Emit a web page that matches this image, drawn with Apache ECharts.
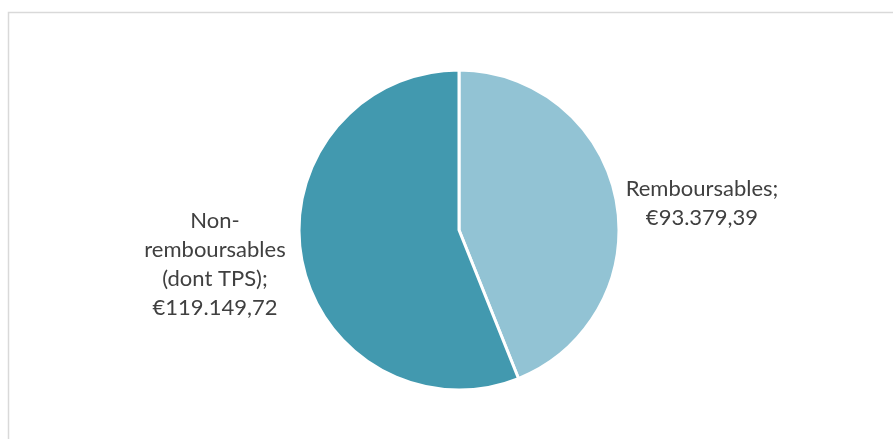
<!DOCTYPE html>
<html><head><meta charset="utf-8">
<script src="https://cdn.jsdelivr.net/npm/echarts@6/dist/echarts.min.js"></script>
<style>html,body{margin:0;padding:0;background:#fff}#c{width:893px;height:439px}</style>
</head><body><div id="c"></div>
<script>
const categories = ['Remboursables', 'Non-\nremboursables\n(dont TPS)'];
const values = [93379.39, 119149.72];
const colors = ['#92C3D4', '#4299AF'];

function fmt(v){
  const parts = v.toFixed(2).split('.');
  const intPart = parts[0].replace(/\B(?=(\d{3})+(?!\d))/g, '.');
  return '€' + intPart + ',' + parts[1];
}
const labelPos = [{x:702,y:203},{x:215,y:264}];

const chart = echarts.init(document.getElementById('c'));
chart.setOption({
  animation:false,
  graphic:[{type:'rect',shape:{x:8.5,y:12.5,width:900,height:450},style:{fill:'none',stroke:'#d9d9d9',lineWidth:1.5},silent:true,z:-1}],
  series:[{
    type:'pie',
    center:[459,230],
    radius:[0,160],
    startAngle:90,
    clockwise:true,
    data: categories.map((c,i)=>({name:c,value:values[i],itemStyle:{color:colors[i]}})),
    itemStyle:{borderColor:'#fff',borderWidth:3},
    label:{show:true,position:'outside',formatter:p=>p.name+';\n'+fmt(p.value),
      fontFamily:'Lato, sans-serif',fontSize:22,color:'#404040',lineHeight:29,align:'center'},
    labelLine:{show:false},
    labelLayout:function(params){
      const p = labelPos[params.dataIndex];
      return {x:p.x,y:p.y,align:'center',verticalAlign:'middle'};
    }
  }]
});
</script></body></html>
